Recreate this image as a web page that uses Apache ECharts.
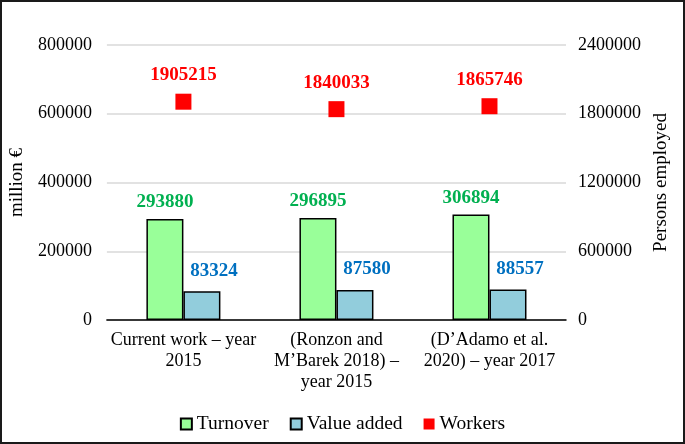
<!DOCTYPE html>
<html>
<head>
<meta charset="utf-8">
<script src="https://cdn.jsdelivr.net/npm/echarts@6/dist/echarts.min.js"></script>
<style>
  html, body { margin: 0; padding: 0; background: #fff; }
  #chart { width: 685px; height: 444px; }
</style>
</head>
<body>
<div id="chart"></div>
<script>
// categories and values
const categories = [
  'Current work – year\n2015',
  '(Ronzon and\nM’Barek 2018) –\nyear 2015',
  '(D’Adamo et al.\n2020) – year 2017'
];
const turnover = [293880, 296895, 306894];
const valueAdded = [83324, 87580, 88557];
const workers = [1905215, 1840033, 1865746];

const FONT = 'Liberation Serif';

const chart = echarts.init(document.getElementById('chart'));

const option = {
  animation: false,
  textStyle: { fontFamily: FONT },
  graphic: [{
    type: 'rect',
    shape: { x: 1, y: 1, width: 683, height: 442 },
    style: { fill: 'none', stroke: '#1a1a1a', lineWidth: 2 }
  }],
  grid: { left: 104, right: 119, top: 45, bottom: 124 },
  legend: {
    bottom: 5,
    left: 'center',
    itemWidth: 11,
    itemHeight: 11,
    itemGap: 21,
    textStyle: { fontFamily: FONT, fontSize: 19.5, color: '#000' },
    data: [
      { name: 'Turnover', icon: 'rect' },
      { name: 'Value added', icon: 'rect' },
      { name: 'Workers', icon: 'rect' }
    ]
  },
  xAxis: {
    type: 'category',
    data: categories,
    axisLine: { lineStyle: { color: '#000', width: 1.5 } },
    axisTick: { show: false },
    axisLabel: {
      fontFamily: FONT, fontSize: 18, color: '#000',
      lineHeight: 21, margin: 10, interval: 0
    }
  },
  yAxis: [
    {
      type: 'value', min: 0, max: 800000, interval: 200000,
      name: 'million €', nameLocation: 'middle', nameGap: 71, nameRotate: 90,
      nameTextStyle: { fontFamily: FONT, fontSize: 19, color: '#000' },
      axisLine: { show: false }, axisTick: { show: false },
      axisLabel: { fontFamily: FONT, fontSize: 18, color: '#000', margin: 15,
        formatter: v => String(v) },
      splitLine: { lineStyle: { color: '#d9d9d9', width: 1.5 } }
    },
    {
      type: 'value', min: 0, max: 2400000, interval: 600000,
      name: 'Persons employed', nameLocation: 'middle', nameGap: 80, nameRotate: 90,
      nameTextStyle: { fontFamily: FONT, fontSize: 19, color: '#000' },
      axisLine: { show: false }, axisTick: { show: false },
      axisLabel: { fontFamily: FONT, fontSize: 18, color: '#000', margin: 12,
        formatter: v => String(v) },
      splitLine: { show: false }
    }
  ],
  series: [
    {
      name: 'Turnover', type: 'bar', data: turnover,
      barWidth: 37, barGap: '0%',
      itemStyle: { color: '#99FF99', borderColor: '#000', borderWidth: 1.5 },
      label: {
        show: true, position: 'top', distance: 7,
        fontFamily: FONT, fontSize: 19, fontWeight: 'bold', color: '#00B050'
      }
    },
    {
      name: 'Value added', type: 'bar', data: valueAdded,
      barWidth: 37, barGap: '0%',
      itemStyle: { color: '#92CDDC', borderColor: '#000', borderWidth: 1.5 },
      label: {
        show: true, position: 'top', distance: 11, offset: [12, 0],
        fontFamily: FONT, fontSize: 19, fontWeight: 'bold', color: '#0070C0'
      }
    },
    {
      name: 'Workers', type: 'scatter', yAxisIndex: 1, data: workers,
      symbol: 'rect', symbolSize: 16,
      itemStyle: { color: '#FF0000', opacity: 1 },
      label: {
        show: true, position: 'top', distance: 9,
        fontFamily: FONT, fontSize: 19, fontWeight: 'bold', color: '#FF0000'
      }
    }
  ]
};

chart.setOption(option);
</script>
</body>
</html>
